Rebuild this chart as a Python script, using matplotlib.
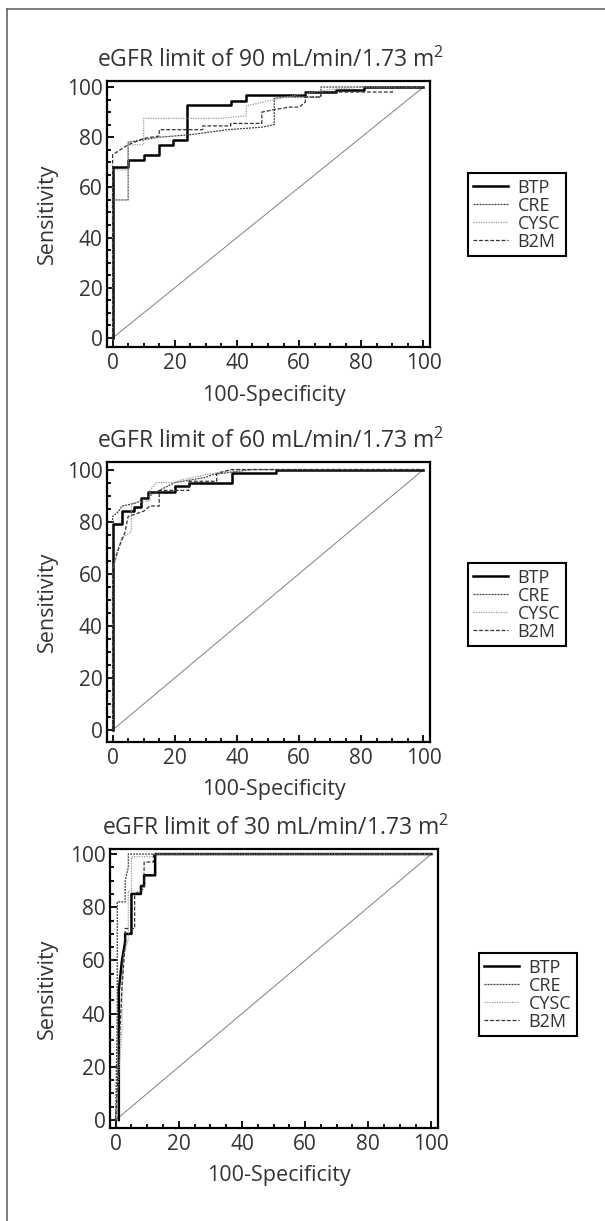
import matplotlib
matplotlib.use("Agg")
import matplotlib.pyplot as plt
from matplotlib.lines import Line2D
from matplotlib.ticker import MultipleLocator

plt.rcParams["font.family"] = ["Open Sans", "DejaVu Sans"]
plt.rcParams["mathtext.fontset"] = "custom"
plt.rcParams["mathtext.rm"] = "Open Sans"

W, H = 605, 1221
TXT = "#333333"

# ── data ──────────────────────────────────────────────────────────────────────

limits = [90, 60, 30]
markers = ["BTP", "CRE", "CYSC", "B2M"]

# eGFR < 90
btp90_x = [0, 0, 5, 5, 10, 10, 15, 15, 19.5, 19.5, 24, 24, 38, 38, 43, 43, 62, 62, 72, 72, 81, 81, 100]
btp90_y = [0, 68, 68, 71, 71, 73, 73, 77, 77, 79, 79, 93, 93, 94.5, 94.5, 97, 97, 98, 98, 99, 99, 100, 100]
cre90_x = [0, 0, 5, 5, 10, 15, 25, 37, 48, 52, 52, 55, 67, 67, 100]
cre90_y = [0, 55, 55, 78, 79, 80, 81, 83, 84, 85, 95.5, 96, 96, 100, 100]
cysc90_x = [0, 0, 5, 5, 10, 10, 34, 43, 43, 52, 60, 70, 80, 100]
cysc90_y = [0, 67, 67, 77, 77, 87.5, 87.5, 88.5, 92.5, 95, 97, 99, 100, 100]
b2m90_x = [0, 0, 5, 10, 15, 15, 29, 29, 38, 38, 48, 48, 52, 57, 60, 62, 62, 67, 67, 90, 90, 100]
b2m90_y = [0, 73, 77, 79.5, 80.5, 83, 83, 84.5, 84.5, 85.5, 85.5, 90, 91, 92, 92, 94, 96, 96, 98, 98, 100, 100]

# eGFR < 60
btp60_x = [0, 0, 3, 3, 7, 7, 9, 9, 11.5, 11.5, 20, 20, 24.5, 24.5, 38.5, 38.5, 52.5, 52.5, 100]
btp60_y = [0, 79, 79, 84, 84, 85.5, 85.5, 89, 89, 91.5, 91.5, 93.5, 93.5, 95, 95, 98.5, 98.5, 100, 100]
cre60_x = [0, 0, 2, 3, 7, 9, 12, 15, 20, 25, 30, 32, 38, 45, 100]
cre60_y = [0, 82, 84, 86, 87, 88, 90, 92, 95, 96, 97, 98, 99, 100, 100]
cysc60_x = [0, 0, 1, 2, 3, 6, 6, 12, 12, 14, 20, 22, 30, 35, 40, 100]
cysc60_y = [0, 62, 65, 70, 74, 76, 87, 88, 92, 95, 95, 96, 98, 99, 100, 100]
b2m60_x = [0, 0, 2, 4, 5, 10, 12, 15, 15, 24.5, 24.5, 33.5, 33.5, 38, 100]
b2m60_y = [0, 63, 70, 76, 82, 84, 86, 86, 92, 92, 95.5, 95.5, 98.5, 100, 100]

# eGFR < 30
btp30_x = [1, 1, 2, 3, 3, 5, 5, 8, 8, 9, 9, 12.5, 12.5, 100]
btp30_y = [0, 49, 60, 67, 70, 70, 85, 85, 88, 88, 92, 92, 100, 100]
cre30_x = [0, 0.5, 0.5, 3, 3, 4, 4, 100]
cre30_y = [0, 40, 82, 82, 90, 95, 100, 100]
cysc30_x = [0, 2, 2, 2.5, 3.5, 4, 4, 5, 5, 12, 12, 100]
cysc30_y = [0, 35, 52, 62, 66, 68, 86, 86, 99, 99, 100, 100]
b2m30_x = [0, 2, 3, 3, 6, 6, 9, 9, 12, 12, 100]
b2m30_y = [0, 50, 66, 72, 72, 85, 87, 97, 97, 100, 100]

curves = {
    90: [(btp90_x, btp90_y), (cre90_x, cre90_y), (cysc90_x, cysc90_y), (b2m90_x, b2m90_y)],
    60: [(btp60_x, btp60_y), (cre60_x, cre60_y), (cysc60_x, cysc60_y), (b2m60_x, b2m60_y)],
    30: [(btp30_x, btp30_y), (cre30_x, cre30_y), (cysc30_x, cysc30_y), (b2m30_x, b2m30_y)],
}

# line look per marker
STYLES = [
    dict(color="black", linewidth=1.8, linestyle="-"),
    dict(color="#444444", linewidth=0.9, linestyle=(0, (1.6, 0.8))),
    dict(color="#999999", linewidth=0.9, linestyle=(0, (1, 1))),
    dict(color="#333333", linewidth=0.9, linestyle=(0, (3, 1.5))),
]

# panel boxes in pixels: left, right, top, bottom, ylim, legend anchor (left, bottom)
PANELS = [
    dict(l=107, r=430, t=81, b=347, ylim=(-3.6, 102.4), leg=(468, 256)),
    dict(l=107, r=430, t=462, b=742, ylim=(-4.6, 102.9), leg=(468, 646)),
    dict(l=110, r=438, t=849, b=1128, ylim=(-3.0, 101.9), leg=(479, 1036)),
]


def fx(px):
    return px / W


def fy(py):
    return 1 - py / H


fig = plt.figure(figsize=(W / 100, H / 100), dpi=100)

# outer frame: top and left edges only
fig.add_artist(Line2D([fx(6.5), 1], [fy(9), fy(9)], color="#666666", linewidth=1.2))
fig.add_artist(Line2D([fx(6.5), fx(6.5)], [fy(9), 0], color="#666666", linewidth=1.2))

for lim, p in zip(limits, PANELS):
    ax = fig.add_axes([fx(p["l"]), fy(p["b"]), (p["r"] - p["l"]) / W, (p["b"] - p["t"]) / H])
    ax.plot([0, 100], [0, 100], color="#808080", linewidth=0.7)
    handles = []
    for (x, y), st, name in zip(curves[lim], STYLES, markers):
        h, = ax.plot(x, y, label=name, **st)
        handles.append(h)

    ax.set_xlim(-1.8, 102.1)
    ax.set_ylim(*p["ylim"])
    ax.xaxis.set_major_locator(MultipleLocator(20))
    ax.xaxis.set_minor_locator(MultipleLocator(5))
    ax.yaxis.set_major_locator(MultipleLocator(20))
    ax.yaxis.set_minor_locator(MultipleLocator(5))
    ax.tick_params(which="both", direction="in", top=False, right=False,
                   colors="black", width=1.3, labelcolor=TXT, labelsize=15)
    ax.tick_params(which="major", length=5)
    ax.tick_params(which="minor", length=2.8)
    ax.tick_params(axis="x", pad=4)
    ax.tick_params(axis="y", pad=3)
    for s in ax.spines.values():
        s.set_linewidth(1.6)

    cx = (p["l"] + p["r"]) / 2
    fig.text(fx(cx + 2), fy(p["t"] - 14), f"eGFR limit of {lim} mL/min/1.73 m$^{{\\mathrm{{2}}}}$",
             ha="center", va="baseline", fontsize=16.5, color=TXT)
    fig.text(fx(cx + 5), fy(p["b"] + 48), "100-Specificity",
             ha="center", va="center", fontsize=15.5, color=TXT)
    fig.text(fx(47), fy((p["t"] + p["b"]) / 2), "Sensitivity", rotation=90,
             ha="center", va="center", fontsize=15.5, color=TXT)

    lx, lb = p["leg"]
    leg = fig.legend(handles=handles, loc="lower left", bbox_to_anchor=(fx(lx), fy(lb)),
                     bbox_transform=fig.transFigure, fontsize=13, frameon=True,
                     fancybox=False, edgecolor="black", framealpha=1,
                     handlelength=1.9, handletextpad=0.55, labelspacing=0.0,
                     borderpad=0.3, borderaxespad=0)
    leg.get_frame().set_linewidth(1.5)
    for t in leg.get_texts():
        t.set_color(TXT)

fig.savefig("out.png", dpi=100, facecolor="white")
